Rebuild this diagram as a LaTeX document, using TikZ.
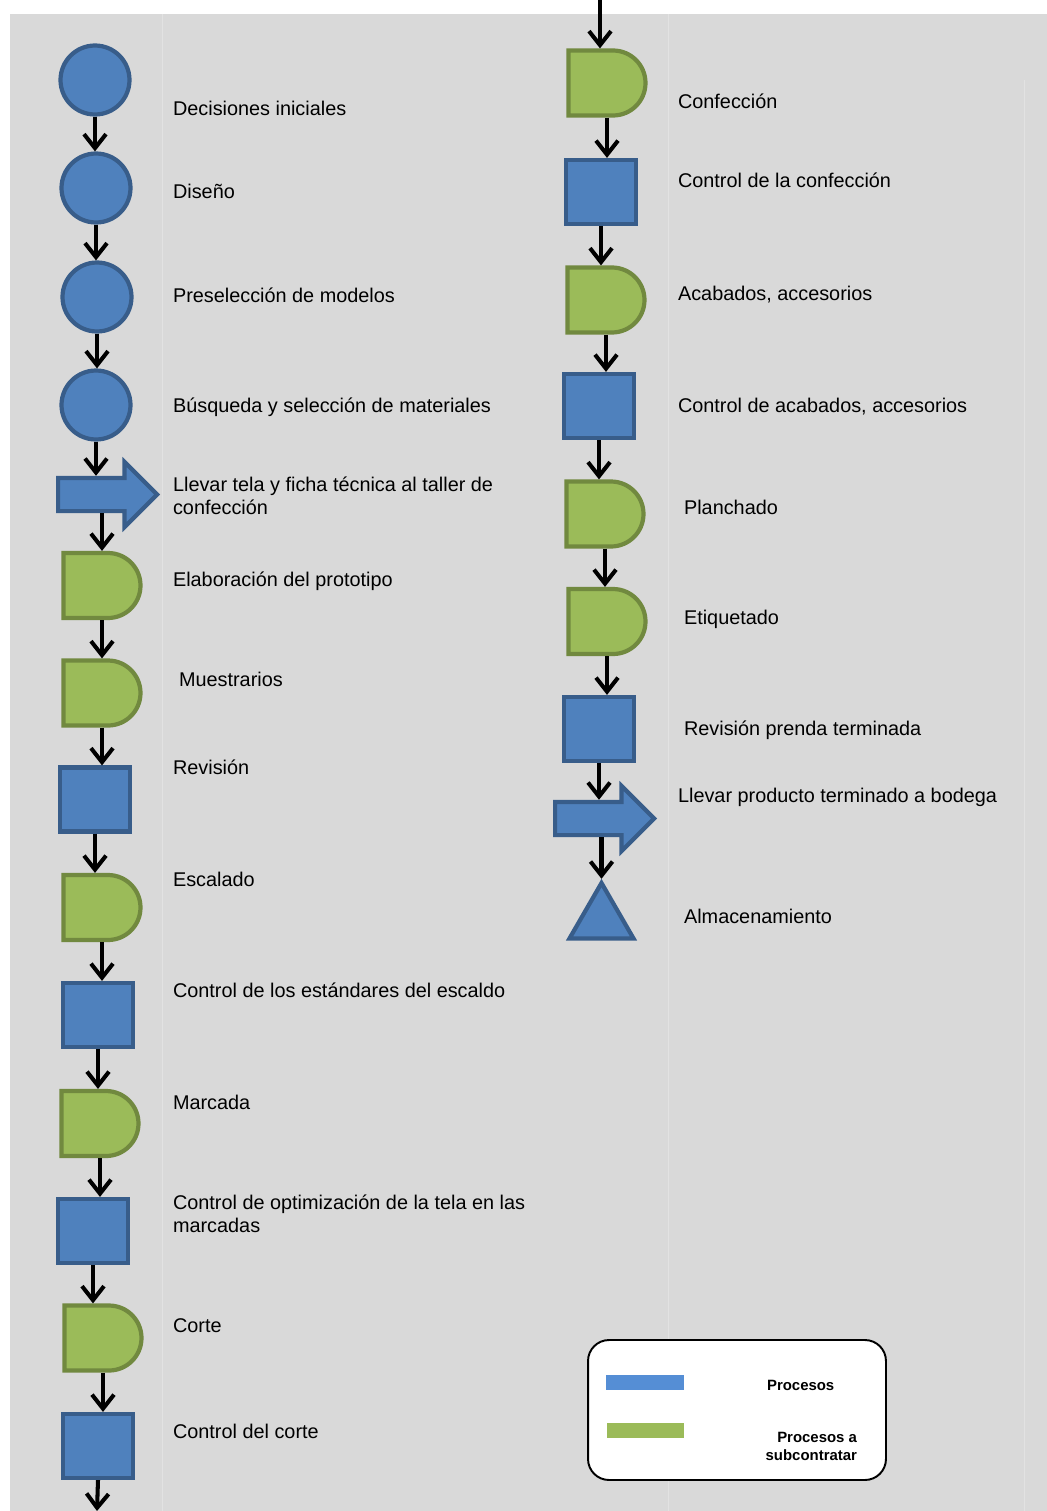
\documentclass[tikz,border=0pt]{standalone}
\usepackage{fontspec}
\setsansfont{Liberation Sans}
\usetikzlibrary{arrows.meta, positioning, shapes.geometric, shapes.misc, shapes.arrows}
\definecolor{pblue}{HTML}{4F81BD}
\definecolor{pblueline}{HTML}{385D8A}
\definecolor{pgreen}{HTML}{9BBB59}
\definecolor{pgreenline}{HTML}{71893F}
\definecolor{kblue}{HTML}{558ED5}
\definecolor{cbg}{HTML}{D9D9D9}
\definecolor{cgrid}{HTML}{E2E2E2}
\tikzset{
  every picture/.style={font=\sffamily, line width=1.2pt},
  circ/.style={circle, draw=pblueline, fill=pblue, line width=2.4pt, minimum size=1.38cm, inner sep=0pt},
  sq/.style={rectangle, draw=pblueline, fill=pblue, line width=2.4pt, minimum width=1.4cm, minimum height=1.28cm, inner sep=0pt},
  dly/.style={rounded rectangle, rounded rectangle west arc=none, draw=pgreenline, fill=pgreen, line width=2.4pt, minimum width=1.54cm, minimum height=1.3cm, inner sep=0pt},
  mov/.style={single arrow, draw=pblueline, fill=pblue, line width=2.4pt, minimum height=1.98cm, inner xsep=0pt, inner ysep=0.29cm, single arrow head extend=0.32cm},
  store/.style={regular polygon, regular polygon sides=3, draw=pblueline, fill=pblue, line width=2.4pt, minimum size=1.48cm, inner sep=0pt},
  flow/.style={-{Straight Barb[length=2.8mm, width=4.4mm]}, line width=2.3pt, draw=black},
  lbl/.style={anchor=west, align=left, inner sep=0pt, font=\sffamily\fontsize{11.3}{13}\selectfont},
  legtxt/.style={inner sep=0pt, font=\sffamily\bfseries\fontsize{8.5}{10.2}\selectfont},
}

\begin{document}
\begin{tikzpicture}[x=0.02cm, y=-0.02cm]
  \useasboundingbox (0,0) rectangle (1047,1511);
  \fill[cbg] (10,14) rectangle (1047,1511);
  \draw[cgrid, line width=0.5pt] (162,14) -- (162,1511) (668,14) -- (668,1511) (1024,80) -- (1024,1511);
  % ---- left column ----
  \node[circ] (c1) at (95,80) {};
  \node[circ] (c2) at (96,188) {};
  \node[circ] (c3) at (97,297) {};
  \node[circ] (c4) at (96,405) {};
  \node[mov, anchor=tail] (la1) at (56,494.5) {};
  \node[dly] (d1) at (102,585.5) {};
  \node[dly] (d2) at (102,693) {};
  \node[sq] (s1) at (95,799.5) {};
  \node[dly] (d3) at (102,907.5) {};
  \node[sq] (s2) at (98,1015) {};
  \node[dly] (d4) at (100,1123.5) {};
  \node[sq] (s3) at (93,1231) {};
  \node[dly] (d5) at (103,1338) {};
  \node[sq] (s4) at (98,1446) {};
  \coordinate (lbot) at (97,1511);
  \node[lbl] (t1) at (172,108) {Decisiones iniciales};
  \node[lbl] (t2) at (172,191) {Diseño};
  \node[lbl] (t3) at (172,295) {Preselección de modelos};
  \node[lbl] (t4) at (172,407) {Búsqueda y selección de materiales};
  \node[lbl] (t5) at (172,495.5) {Llevar tela y ficha técnica al taller de\\confección};
  \node[lbl] (t6) at (172,581) {Elaboración del prototipo};
  \node[lbl] (t7) at (178,679) {Muestrarios};
  \node[lbl] (t8) at (172,767) {Revisión};
  \node[lbl] (t9) at (172,879) {Escalado};
  \node[lbl] (t10) at (172,990) {Control de los estándares del escaldo};
  \node[lbl] (t11) at (172,1102) {Marcada};
  \node[lbl] (t12) at (172,1213.5) {Control de optimización de la tela en las\\marcadas};
  \node[lbl] (t13) at (172,1326) {Corte};
  \node[lbl] (t14) at (172,1431) {Control del corte};
  \draw[flow] (c1.south) -- (c1.south |- c2.north);
  \draw[flow] (c2.south) -- (c2.south |- c3.north);
  \draw[flow] (c3.south) -- (c3.south |- c4.north);
  \draw[flow] (c4.south) -- (c4.south |- la1.north);
  \draw[flow] (la1.south -| d1.north) -- (d1.north);
  \draw[flow] (d1.south) -- (d1.south |- d2.north);
  \draw[flow] (d2.south) -- (d2.south |- s1.north);
  \draw[flow] (s1.south) -- (s1.south |- d3.north);
  \draw[flow] (d3.south) -- (d3.south |- s2.north);
  \draw[flow] (s2.south) -- (s2.south |- d4.north);
  \draw[flow] (d4.south) -- (d4.south |- s3.north);
  \draw[flow] (s3.south) -- (s3.south |- d5.north);
  \draw[flow] (d5.south) -- (d5.south |- s4.north);
  \draw[flow] (s4.south) -- (lbot);
  % ---- right column ----
  \coordinate (rtop) at (600,0);
  \node[dly] (r1) at (607,83) {};
  \node[sq] (r2) at (601,192) {};
  \node[dly] (r3) at (606,300) {};
  \node[sq] (r4) at (599,406) {};
  \node[dly] (r5) at (605,514) {};
  \node[dly] (r6) at (607,621.5) {};
  \node[sq] (r7) at (599,729) {};
  \node[mov, anchor=tail] (ra) at (553,818.5) {};
  \node[store] (rs) at (601.5,920) {};
  \node[lbl] (u1) at (677,101) {Confección};
  \node[lbl] (u2) at (677,180) {Control de la confección};
  \node[lbl] (u3) at (677,295) {Acabados, accesorios};
  \node[lbl] (u4) at (677,407) {Control de acabados, accesorios};
  \node[lbl] (u5) at (683,507) {Planchado};
  \node[lbl] (u6) at (683,619) {Etiquetado};
  \node[lbl] (u7) at (683,730) {Revisión prenda terminada};
  \node[lbl] (u8) at (677,797) {Llevar producto terminado a bodega};
  \node[lbl] (u9) at (683,916) {Almacenamiento};
  \draw[flow] (rtop) -- (rtop |- r1.north);
  \draw[flow] (r1.south) -- (r1.south |- r2.north);
  \draw[flow] (r2.south) -- (r2.south |- r3.north);
  \draw[flow] (r3.south) -- (r3.south |- r4.north);
  \draw[flow] (r4.south) -- (r4.south |- r5.north);
  \draw[flow] (r5.south) -- (r5.south |- r6.north);
  \draw[flow] (r6.south) -- (r6.south |- r7.north);
  \draw[flow] (r7.south) -- (r7.south |- ra.north);
  \draw[flow] (ra.south -| rs.north) -- (rs.north);
  % ---- legend ----
  \node[draw=black, fill=white, rounded corners=0.42cm, line width=1.1pt, minimum width=5.96cm, minimum height=2.8cm] (leg) at (737,1410) {};
  \node[fill=kblue, minimum width=1.56cm, minimum height=0.3cm, inner sep=0pt] (kin) at (645,1382.5) {};
  \node[fill=pgreen, minimum width=1.54cm, minimum height=0.3cm, inner sep=0pt] (ksub) at (645.5,1430.5) {};
  \node[legtxt, anchor=west] (lin) at (766,1385) {Procesos};
  \node[legtxt, anchor=east, align=right] (lsub) at (858,1446) {Procesos a\\subcontratar};
\end{tikzpicture}
\end{document}
